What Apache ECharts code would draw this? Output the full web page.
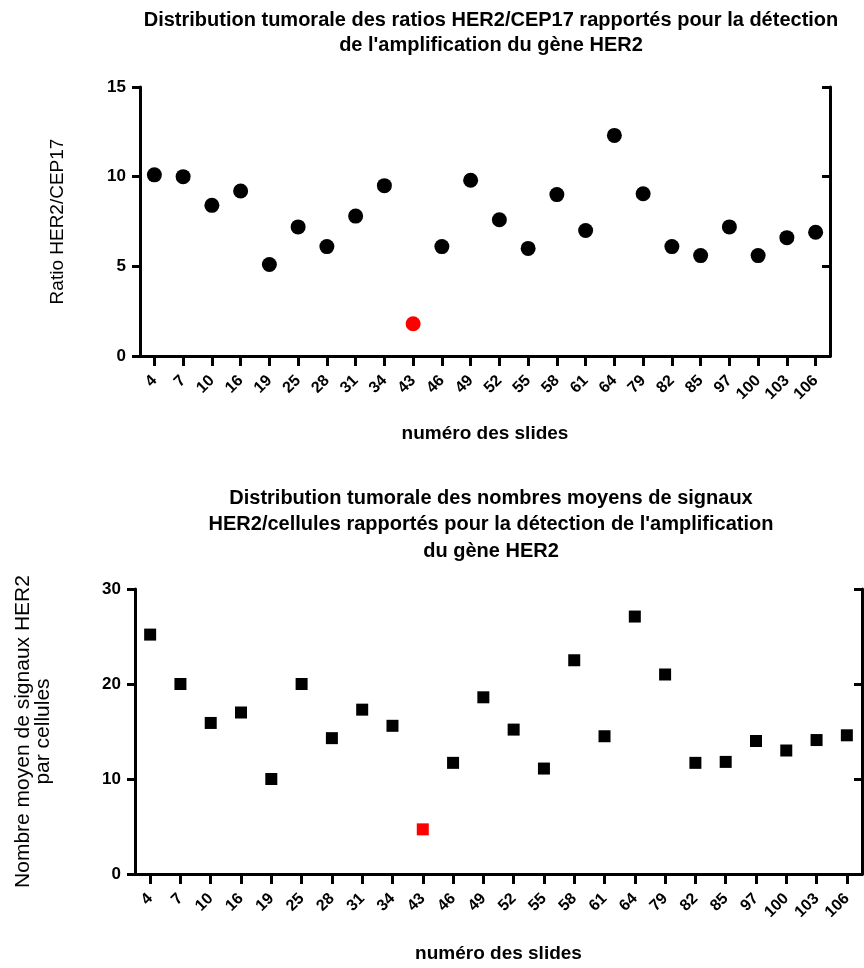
<!DOCTYPE html>
<html>
<head>
<meta charset="utf-8">
<script src="https://cdn.jsdelivr.net/npm/echarts@6/dist/echarts.min.js"></script>
<style>
html,body{margin:0;padding:0;background:#fff;}
#c{width:864px;height:968px;}
</style>
</head>
<body>
<div id="c"></div>
<script>
// ---- data ----
const slides = ['4','7','10','16','19','25','28','31','34','43','46','49','52','55','58','61','64','79','82','85','97','100','103','106'];
const ratioValues = [10.1,10.0,8.4,9.2,5.1,7.2,6.1,7.8,9.5,1.8,6.1,9.8,7.6,6.0,9.0,7.0,12.3,9.05,6.1,5.6,7.2,5.6,6.6,6.9];
const signalValues = [25.2,20.0,15.9,17.0,10.0,20.0,14.3,17.3,15.6,4.7,11.7,18.6,15.2,11.1,22.5,14.5,27.1,21.0,11.7,11.8,14.0,13.0,14.1,14.6];
const highlighted = ['43'];
const ratioTicks = [0,5,10,15];
const signalTicks = [0,10,20,30];

const titleTop = "Distribution tumorale des ratios HER2/CEP17 rapportés pour la détection\nde l'amplification du gène HER2";
const titleBottom = "Distribution tumorale des nombres moyens de signaux\nHER2/cellules rapportés pour la détection de l'amplification\ndu gène HER2";
const yNameTop = "Ratio HER2/CEP17";
const yNameBottom = "Nombre moyen de signaux HER2\npar cellules";
const xName = "numéro des slides";

const FONT = 'Liberation Sans, Arial, sans-serif';
const LW = 3;

function pointColor(p){ return highlighted.indexOf(slides[p.dataIndex]) >= 0 ? '#ff0000' : '#000000'; }

function mainX(grid, nameGap){
  return {
    type:'category', gridIndex:grid, data:slides, position:'bottom', boundaryGap:true,
    axisLine:{show:true, lineStyle:{color:'#000', width:LW}},
    axisTick:{show:true, alignWithLabel:true, length:10, lineStyle:{color:'#000', width:LW}},
    axisLabel:{rotate:45, margin:22, interval:0, color:'#000', fontFamily:FONT, fontWeight:'bold', fontSize:16},
    name:xName, nameLocation:'middle', nameGap:nameGap,
    nameTextStyle:{color:'#000', fontFamily:FONT, fontWeight:'bold', fontSize:19},
    splitLine:{show:false}
  };
}
function topX(grid){
  return {
    type:'category', gridIndex:grid, data:slides, position:'top', boundaryGap:true,
    axisLine:{show:true, lineStyle:{color:'#000', width:LW}},
    axisTick:{show:true, inside:true, interval:0, alignWithLabel:true, length:8, lineStyle:{color:'#000', width:LW}},
    axisLabel:{show:false}, splitLine:{show:false}
  };
}
function leftY(grid, ticks, name, nameGap, nameSize){
  return {
    type:'value', gridIndex:grid, position:'left',
    min:ticks[0], max:ticks[ticks.length-1], interval:ticks[1]-ticks[0],
    axisLine:{show:true, lineStyle:{color:'#000', width:LW}},
    axisTick:{show:true, length:8, lineStyle:{color:'#000', width:LW}},
    axisLabel:{margin:14, color:'#000', fontFamily:FONT, fontWeight:'bold', fontSize:17},
    splitLine:{show:false},
    name:name, nameLocation:'middle', nameRotate:90, nameGap:nameGap,
    nameTextStyle:{color:'#000', fontFamily:FONT, fontWeight:'normal', fontSize:nameSize, lineHeight:20, align:'center'}
  };
}
function rightY(grid, ticks){
  return {
    type:'value', gridIndex:grid, position:'right',
    min:ticks[0], max:ticks[ticks.length-1], interval:ticks[1]-ticks[0],
    axisLine:{show:true, lineStyle:{color:'#000', width:LW}},
    axisTick:{show:true, inside:true, length:8, lineStyle:{color:'#000', width:LW}},
    axisLabel:{show:false}, splitLine:{show:false}
  };
}

const chart = echarts.init(document.getElementById('c'), null, {renderer:'canvas'});
chart.setOption({
  animation:false,
  backgroundColor:'#fff',
  title:[
    {text:titleTop, left:486, top:3, textAlign:'center',
     textStyle:{fontFamily:FONT, fontWeight:'bold', fontSize:20, lineHeight:25, color:'#000'}},
    {text:titleBottom, left:486, top:480, textAlign:'center',
     textStyle:{fontFamily:FONT, fontWeight:'bold', fontSize:20, lineHeight:26.5, color:'#000'}}
  ],
  grid:[
    {left:140, right:34, top:87, bottom:612, containLabel:false},
    {left:135, right:2, top:589, bottom:94, containLabel:false}
  ],
  xAxis:[ mainX(0, 68), topX(0), mainX(1, 70), topX(1) ],
  yAxis:[ leftY(0, ratioTicks, yNameTop, 72, 19), rightY(0, ratioTicks),
          leftY(1, signalTicks, yNameBottom, 82, 21), rightY(1, signalTicks) ],
  series:[
    {type:'scatter', xAxisIndex:0, yAxisIndex:0, data:ratioValues, symbol:'circle', symbolSize:15,
     itemStyle:{color:pointColor, opacity:1}},
    {type:'scatter', xAxisIndex:2, yAxisIndex:2, data:signalValues, symbol:'rect', symbolSize:12,
     itemStyle:{color:pointColor, opacity:1}}
  ]
});
</script>
</body>
</html>
